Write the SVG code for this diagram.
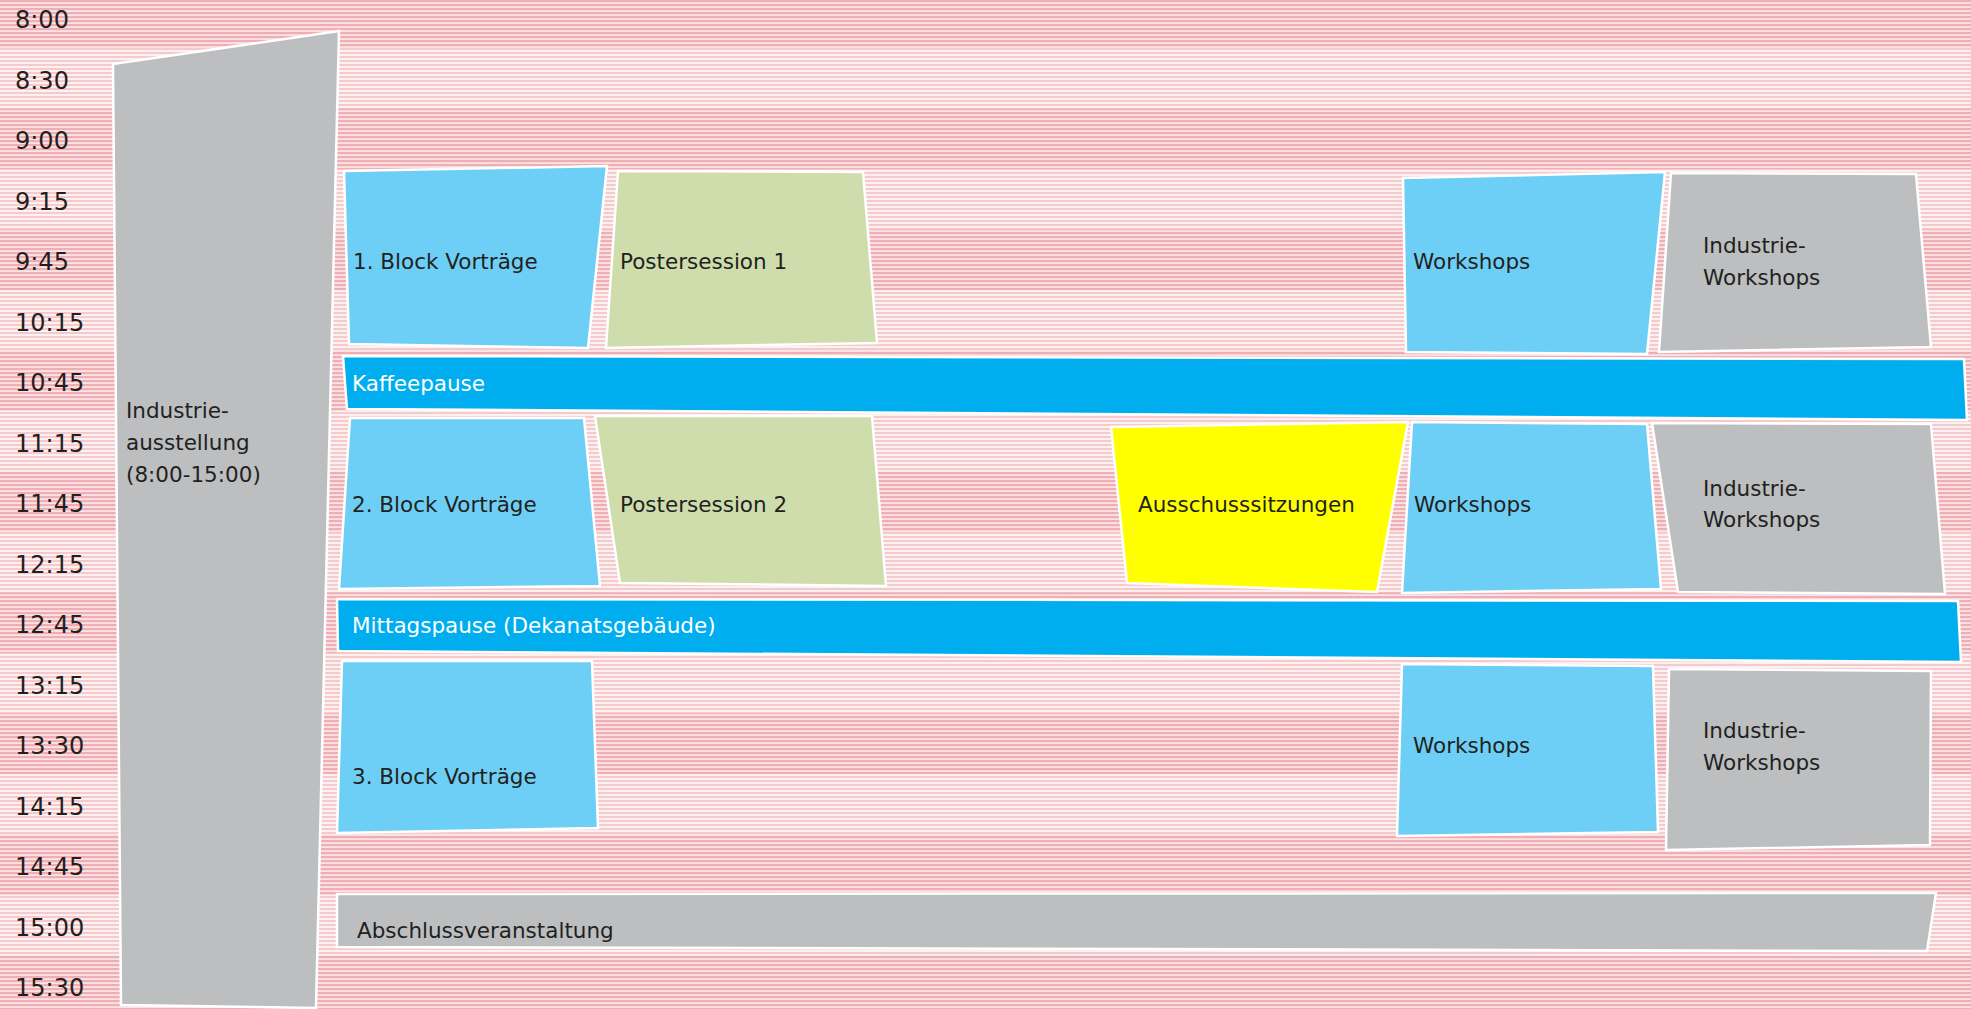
<svg xmlns="http://www.w3.org/2000/svg" width="1971" height="1009" viewBox="0 0 1971 1009">
<defs>
<pattern id="pl" x="0" y="0" width="8" height="4" patternUnits="userSpaceOnUse">
<rect width="8" height="4" fill="#fdf0f1"/>
<rect y="0" width="8" height="2" fill="#f5cacd"/>
</pattern>
<pattern id="pd" x="0" y="0" width="8" height="4" patternUnits="userSpaceOnUse">
<rect width="8" height="4" fill="#fbe3e5"/>
<rect y="0" width="8" height="2.2" fill="#eeaeb3"/>
</pattern>
</defs>
<style>
.shape{stroke:#ffffff;stroke-width:2.5;stroke-linejoin:miter}
.gray{fill:#bcbec0}
.lblue{fill:#6dcff6}
.blue{fill:#00aeef}
.green{fill:#cfddad}
.yellow{fill:#ffff00}
.t{font-family:"DejaVu Sans","Liberation Sans",sans-serif;font-size:21.5px;fill:#231f20}
.w{fill:#ffffff}
.time{font-family:"DejaVu Sans","Liberation Sans",sans-serif;font-size:24px;fill:#231f20}
</style>
<g id="background">
<rect x="0" y="0" width="1971" height="1009" fill="url(#pl)"/>
<rect x="0" y="0" width="1971" height="48" fill="url(#pd)"/>
<rect x="0" y="108.5" width="1971" height="60.5" fill="url(#pd)"/>
<rect x="0" y="229.5" width="1971" height="60.5" fill="url(#pd)"/>
<rect x="0" y="350.5" width="1971" height="60.5" fill="url(#pd)"/>
<rect x="0" y="471.5" width="1971" height="60.5" fill="url(#pd)"/>
<rect x="0" y="592.5" width="1971" height="60.5" fill="url(#pd)"/>
<rect x="0" y="713.5" width="1971" height="60.5" fill="url(#pd)"/>
<rect x="0" y="834.5" width="1971" height="60.5" fill="url(#pd)"/>
<rect x="0" y="955.5" width="1971" height="53.5" fill="url(#pd)"/>
</g>
<g id="time-axis">
<text class="time" x="15" y="28">8:00</text>
<text class="time" x="15" y="88.5">8:30</text>
<text class="time" x="15" y="149">9:00</text>
<text class="time" x="15" y="209.5">9:15</text>
<text class="time" x="15" y="270">9:45</text>
<text class="time" x="15" y="330.5">10:15</text>
<text class="time" x="15" y="391">10:45</text>
<text class="time" x="15" y="451.5">11:15</text>
<text class="time" x="15" y="512">11:45</text>
<text class="time" x="15" y="572.5">12:15</text>
<text class="time" x="15" y="633">12:45</text>
<text class="time" x="15" y="693.5">13:15</text>
<text class="time" x="15" y="754">13:30</text>
<text class="time" x="15" y="814.5">14:15</text>
<text class="time" x="15" y="875">14:45</text>
<text class="time" x="15" y="935.5">15:00</text>
<text class="time" x="15" y="996">15:30</text>
</g>
<g id="industrieausstellung">
<polygon class="shape gray" points="113,64 339,31 316,1008 121,1005"/>
<text class="t" x="126" y="418">Industrie-</text>
<text class="t" x="126" y="450">ausstellung</text>
<text class="t" x="126" y="482">(8:00-15:00)</text>
</g>
<g id="block1">
<polygon class="shape lblue" points="344,171 607,166 588,348 349,344"/>
<text class="t" x="353" y="269">1. Block Vorträge</text>
</g>
<g id="poster1">
<polygon class="shape green" points="618,171 863,172 877,343 606,348"/>
<text class="t" x="620" y="269">Postersession 1</text>
</g>
<g id="workshops1">
<polygon class="shape lblue" points="1403,178 1665,172 1647,354 1406,352"/>
<text class="t" x="1413" y="269">Workshops</text>
</g>
<g id="industrieworkshops1">
<polygon class="shape gray" points="1671,173 1916,174 1931,347 1659,352"/>
<text class="t" x="1703" y="253">Industrie-</text>
<text class="t" x="1703" y="285">Workshops</text>
</g>
<g id="kaffeepause">
<polygon class="shape blue" points="343,356 1964,359 1967,420 347,409"/>
<text class="t w" x="352" y="391">Kaffeepause</text>
</g>
<g id="block2">
<polygon class="shape lblue" points="350,418 584,418 600,586 339,589"/>
<text class="t" x="352" y="512">2. Block Vorträge</text>
</g>
<g id="poster2">
<polygon class="shape green" points="595,416 872,416 886,586 620,583"/>
<text class="t" x="620" y="512">Postersession 2</text>
</g>
<g id="ausschuss">
<polygon class="shape yellow" points="1111,427 1408,422 1377,592 1127,583"/>
<text class="t" x="1138" y="512">Ausschusssitzungen</text>
</g>
<g id="workshops2">
<polygon class="shape lblue" points="1412,422 1647,424 1661,589 1402,593"/>
<text class="t" x="1414" y="512">Workshops</text>
</g>
<g id="industrieworkshops2">
<polygon class="shape gray" points="1652,423 1931,424 1945,594 1678,592"/>
<text class="t" x="1703" y="496">Industrie-</text>
<text class="t" x="1703" y="527">Workshops</text>
</g>
<g id="mittagspause">
<polygon class="shape blue" points="337,599 1958,601 1961,662 338,651"/>
<text class="t w" x="352" y="633">Mittagspause (Dekanatsgebäude)</text>
</g>
<g id="block3">
<polygon class="shape lblue" points="342,661 592,661 598,828 337,833"/>
<text class="t" x="352" y="784">3. Block Vorträge</text>
</g>
<g id="workshops3">
<polygon class="shape lblue" points="1402,664 1653,666 1658,832 1397,836"/>
<text class="t" x="1413" y="753">Workshops</text>
</g>
<g id="industrieworkshops3">
<polygon class="shape gray" points="1669,669 1931,671 1930,845 1666,850"/>
<text class="t" x="1703" y="738">Industrie-</text>
<text class="t" x="1703" y="770">Workshops</text>
</g>
<g id="abschluss">
<polygon class="shape gray" points="337,894 1936,893 1927,951 337,947"/>
<text class="t" x="357" y="938">Abschlussveranstaltung</text>
</g>
<g id="connectors"></g>
</svg>
